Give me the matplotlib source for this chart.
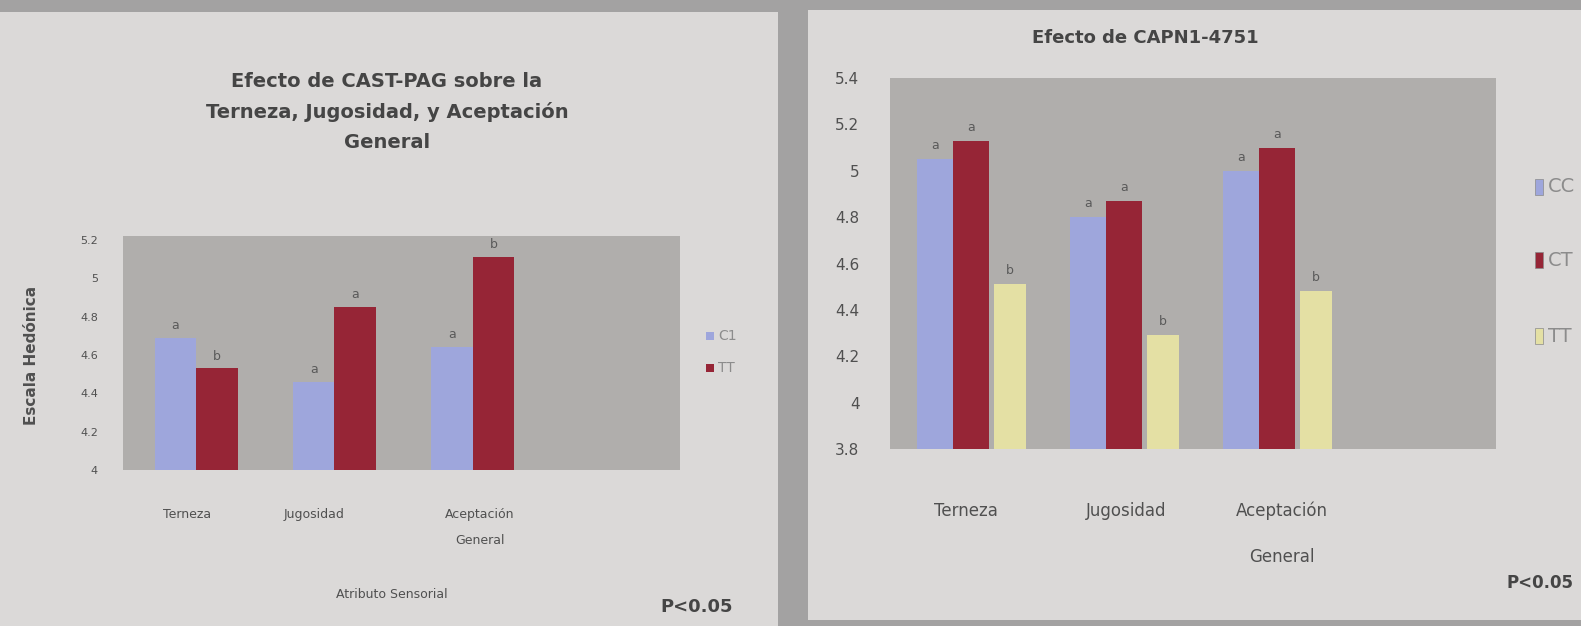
# Two bar charts photographed from a slide (CAST-PAG and CAPN1-4751)
import numpy as np
import matplotlib.pyplot as plt
from matplotlib.patches import Rectangle

# -------------------------
# Data
# -------------------------
categories = ["Terneza", "Jugosidad", "Aceptación\nGeneral"]

left_c1 = [4.69, 4.46, 4.64]
left_tt = [4.53, 4.85, 5.11]
left_c1_letters = ["a", "a", "a"]
left_tt_letters = ["b", "a", "b"]
left_ticks = [4, 4.2, 4.4, 4.6, 4.8, 5, 5.2]

right_cc = [5.05, 4.80, 5.00]
right_ct = [5.13, 4.87, 5.10]
right_tt = [4.51, 4.29, 4.48]
right_letters = [["a", "a", "b"], ["a", "a", "b"], ["a", "a", "b"]]
right_ticks = [3.8, 4, 4.2, 4.4, 4.6, 4.8, 5, 5.2, 5.4]

# -------------------------
# Colours
# -------------------------
blue = "#9ea6dc"
red = "#962536"
yellow = "#e4e0a4"
plot_bg = "#b0aeac"
panel_bg = "#dbd9d8"
text_col = "#505050"

W, H = 1581, 626
fig = plt.figure(figsize=(W / 100, H / 100), dpi=100)
fig.patch.set_facecolor("#a3a2a2")


def box(x0, y0, x1, y1):
    # pixel box -> figure fraction
    return [x0 / W, 1 - y1 / H, (x1 - x0) / W, (y1 - y0) / H]


def fx(x):
    return x / W


def fy(y):
    return 1 - y / H


# panels
fig.add_artist(Rectangle((0, 0), fx(778), fy(12), transform=fig.transFigure,
                         facecolor=panel_bg, edgecolor="none", zorder=0))
fig.add_artist(Rectangle((fx(808), fy(620)), 1 - fx(808), fy(10) - fy(620),
                         transform=fig.transFigure,
                         facecolor=panel_bg, edgecolor="none", zorder=0))

# -------------------------
# Left chart
# -------------------------
ax1 = fig.add_axes(box(123, 236, 680, 470))
ax1.set_facecolor(plot_bg)
x = np.arange(len(categories))
w = 0.3
ax1.bar(x - w / 2, left_c1, w, color=blue)
ax1.bar(x + w / 2, left_tt, w, color=red)
for i in range(len(categories)):
    ax1.text(x[i] - w / 2, left_c1[i] + 0.03, left_c1_letters[i],
             ha="center", va="bottom", fontsize=9, color="#5a5a5a")
    ax1.text(x[i] + w / 2, left_tt[i] + 0.03, left_tt_letters[i],
             ha="center", va="bottom", fontsize=9, color="#5a5a5a")
ax1.set_xlim(-0.53, 3.5)
ax1.set_ylim(4, 5.22)
ax1.set_yticks(left_ticks)
ax1.set_yticklabels(["4", "4.2", "4.4", "4.6", "4.8", "5", "5.2"])
ax1.set_xticks([])
ax1.tick_params(axis="y", length=0, pad=18, labelsize=8, labelcolor=text_col)
for s in ax1.spines.values():
    s.set_visible(False)

label_px = [187, 314, 480]
for i, lab in enumerate(categories):
    fig.text(fx(label_px[i]), fy(508), lab, ha="center", va="top",
             fontsize=9, color=text_col, linespacing=2.3)

fig.text(fx(387), fy(112), "Efecto de CAST-PAG sobre la\nTerneza, Jugosidad, y Aceptación\nGeneral",
         ha="center", va="center", fontsize=14, fontweight="semibold",
         color="#454545", linespacing=1.7)
fig.text(fx(32), fy(355), "Escala Hedónica", rotation=90, ha="center", va="center",
         fontsize=11, fontweight="semibold", color=text_col)
fig.text(fx(392), fy(594), "Atributo Sensorial", ha="center", va="center",
         fontsize=9, color=text_col)
fig.text(fx(697), fy(607), "P<0.05", ha="center", va="center",
         fontsize=13, fontweight="semibold", color="#454545")

# legend left
fig.add_artist(Rectangle((fx(706), fy(340)), fx(8), 8 / H, transform=fig.transFigure,
                         facecolor=blue, edgecolor="none"))
fig.text(fx(718), fy(336), "C1", va="center", fontsize=10, color="#8c8c8c")
fig.add_artist(Rectangle((fx(706), fy(372)), fx(8), 8 / H, transform=fig.transFigure,
                         facecolor=red, edgecolor="none"))
fig.text(fx(718), fy(368), "TT", va="center", fontsize=10, color="#8c8c8c")

# -------------------------
# Right chart
# -------------------------
ax2 = fig.add_axes(box(890, 78, 1496, 449))
ax2.set_facecolor(plot_bg)
w2 = 0.235
ax2.bar(x - w2, right_cc, w2, color=blue)
ax2.bar(x, right_ct, w2, color=red)
ax2.bar(x + w2 + 0.02, right_tt, w2 * 0.9, color=yellow)
series = [right_cc, right_ct, right_tt]
offsets = [-w2, 0, w2 + 0.02]
for i in range(len(categories)):
    for j in range(3):
        ax2.text(x[i] + offsets[j], series[j][i] + 0.03, right_letters[i][j],
                 ha="center", va="bottom", fontsize=9, color="#5a5a5a")
ax2.set_xlim(-0.53, 3.43)
ax2.set_ylim(3.8, 5.4)
ax2.set_yticks(right_ticks)
ax2.set_yticklabels(["3.8", "4", "4.2", "4.4", "4.6", "4.8", "5", "5.2", "5.4"])
ax2.set_xticks([])
ax2.tick_params(axis="y", length=0, pad=22, labelsize=11, labelcolor=text_col)
for s in ax2.spines.values():
    s.set_visible(False)

label_px2 = [966, 1126, 1282]
for i, lab in enumerate(categories):
    fig.text(fx(label_px2[i]), fy(502), lab, ha="center", va="top",
             fontsize=12, color=text_col, linespacing=3.0)

fig.text(fx(1145), fy(38), "Efecto de CAPN1-4751", ha="center", va="center",
         fontsize=13, fontweight="semibold", color="#454545")
fig.text(fx(1574), fy(583), "P<0.05", ha="right", va="center",
         fontsize=12, fontweight="semibold", color="#454545")

# legend right (cut off at the edge of the photo)
leg_y = [187, 260, 336]
leg_cols = [blue, red, yellow]
leg_txt = ["CC", "CT", "TT"]
for yy, c, t in zip(leg_y, leg_cols, leg_txt):
    fig.add_artist(Rectangle((fx(1535), fy(yy + 8)), fx(8), 16 / H, transform=fig.transFigure,
                             facecolor=c, edgecolor="#8a8a8a", linewidth=0.5))
    fig.text(fx(1548), fy(yy), t, va="center", fontsize=14, color="#8c8c8c")

plt.savefig("out.png", dpi=100, facecolor=fig.get_facecolor())
